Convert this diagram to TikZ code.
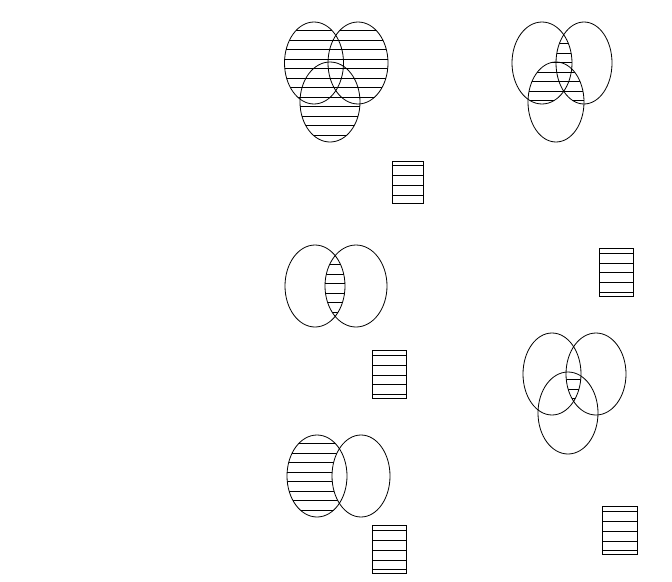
\documentclass[tikz,border=0pt]{standalone}
\begin{document}
\begin{tikzpicture}[x=1pt,y=-1pt,line width=0.8pt,
  outline/.style={draw=black},
  legendbox/.style={draw=black}]
\useasboundingbox (0,0) rectangle (672,581);

% ---------- Diagram 1: A u B u C ----------
\begin{scope}
  \clip (314,63) ellipse (29.5pt and 41pt) (358,63) ellipse (30pt and 41pt) (330,102) ellipse (30pt and 40pt);
  \foreach \y in {30.5,40,...,145} \draw (270,\y) -- (400,\y);
\end{scope}
\draw[outline] (314,63) ellipse (29.5pt and 41pt);
\draw[outline] (358,63) ellipse (30pt and 41pt);
\draw[outline] (330,102) ellipse (30pt and 40pt);

% ---------- Diagram 2: at least two ----------
\begin{scope}
  \clip (542,63) ellipse (30pt and 41pt);
  \clip (584,63) ellipse (28pt and 41pt);
  \foreach \y in {24.5,34,...,145} \draw (500,\y) -- (640,\y);
\end{scope}
\begin{scope}
  \clip (556,102) ellipse (28pt and 40pt);
  \clip (542,63) ellipse (30pt and 41pt);
  \foreach \y in {24.5,34,...,145} \draw (500,\y) -- (640,\y);
\end{scope}
\begin{scope}
  \clip (556,102) ellipse (28pt and 40pt);
  \clip (584,63) ellipse (28pt and 41pt);
  \foreach \y in {24.5,34,...,145} \draw (500,\y) -- (640,\y);
\end{scope}
\draw[outline] (542,63) ellipse (30pt and 41pt);
\draw[outline] (584,63) ellipse (28pt and 41pt);
\draw[outline] (556,102) ellipse (28pt and 40pt);

% ---------- Diagram 3: A n B ----------
\begin{scope}
  \clip (315,286) ellipse (30pt and 41pt);
  \clip (356,286) ellipse (31pt and 41pt);
  \foreach \y in {245.5,255,...,330} \draw (270,\y) -- (400,\y);
\end{scope}
\draw[outline] (315,286) ellipse (30pt and 41pt);
\draw[outline] (356,286) ellipse (31pt and 41pt);

% ---------- Diagram 4: A n B n C ----------
\begin{scope}
  \clip (552,374) ellipse (29pt and 41pt);
  \clip (596,374) ellipse (30pt and 41pt);
  \clip (568,413) ellipse (30pt and 41pt);
  \foreach \y in {341.5,351,...,455} \draw (510,\y) -- (640,\y);
\end{scope}
\draw[outline] (552,374) ellipse (29pt and 41pt);
\draw[outline] (596,374) ellipse (30pt and 41pt);
\draw[outline] (568,413) ellipse (30pt and 41pt);

% ---------- Diagram 5: A minus B ----------
\begin{scope}
  \clip (317,476) ellipse (30pt and 41pt);
  \foreach \y in {443.5,453,...,520} \draw (280,\y) -- (400,\y);
  \fill[white] (361,476) ellipse (29pt and 41pt);
\end{scope}
\draw[outline] (317,476) ellipse (30pt and 41pt);
\draw[outline] (361,476) ellipse (29pt and 41pt);

% ---------- legend boxes ----------
\draw[legendbox] (392,161) rectangle (423,203);
\foreach \y in {165,175,185,195} \draw (392,\y) -- (423,\y);

\draw[legendbox] (599,248) rectangle (633,296);
\foreach \y in {253,263,272,282,292} \draw (599,\y) -- (633,\y);

\draw[legendbox] (602,506) rectangle (637,554);
\foreach \y in {511,521,531,541,550} \draw (602,\y) -- (637,\y);

\draw[legendbox] (372,350) rectangle (406,398);
\foreach \y in {355,365,375,384,394} \draw (372,\y) -- (406,\y);

\draw[legendbox] (372,525) rectangle (406,573);
\foreach \y in {530,540,550,560,569} \draw (372,\y) -- (406,\y);
\end{tikzpicture}
\end{document}
